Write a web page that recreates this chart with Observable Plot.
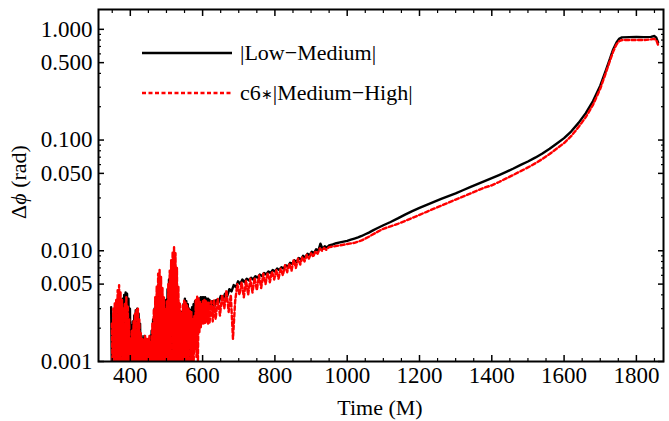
<!DOCTYPE html>
<html>
<head>
<meta charset="utf-8">
<script src="https://cdn.jsdelivr.net/npm/d3@7"></script>
<script src="https://cdn.jsdelivr.net/npm/@observablehq/plot@0.6"></script>
<style>
  body { margin: 0; background: white; }
  #chart { position: relative; width: 669px; height: 421px; }
</style>
</head>
<body>
<div id="chart"></div>
<script>
// ---- data: [time (M), |delta phi| (rad)] ----
const lowMedPoints = [
  [347,.0031],[349,.0008],[351,.0022],[353,.0008],[355,.0025],[357,.0008],[359,.0027],[361,.0008],[363,.0029],[365,.0008],
  [367,.0031],[369,.0008],[371,.0033],[373,.0008],[375,.0035],[377,.0008],[379,.0037],[381,.0008],[383,.0040],[385,.0008],
  [387,.0042],[389,.0008],[391,.0041],[393,.0008],[395,.0037],[397,.0008],[399,.0030],[401,.0008],[403,.0021],[405,.0008],
  [407,.0023],[409,.0008],[411,.0026],[413,.0008],[415,.0029],[417,.0008],[419,.0030],[421,.0008],[423,.0027],[425,.0008],
  [427,.0022],[429,.0008],[431,.0017],[433,.0008],[435,.0016],[437,.0008],[439,.0017],[441,.0008],[443,.0016],[445,.0008],
  [447,.0015],[449,.0008],[451,.0016],[453,.0008],[455,.0017],[457,.0008],[459,.0019],[461,.0008],[463,.0024],[465,.0008],
  [467,.0030],[469,.0008],[471,.0038],[473,.0008],[475,.0046],[477,.0008],[479,.0052],[481,.0008],[483,.0050],[485,.0008],
  [487,.0043],[489,.0008],[491,.0036],[493,.0008],[495,.0031],[497,.0008],[499,.0036],[501,.0008],[503,.0045],[505,.0008],
  [507,.0055],[509,.0008],[511,.0063],[513,.0008],[515,.0070],[517,.0008],[519,.0073],[521,.0008],[523,.0068],[525,.0008],
  [527,.0052],[529,.0008],[531,.0037],[533,.0008],[535,.0026],[537,.0008],[539,.0023],[541,.0008],[543,.0028],[545,.0008],
  [547,.0033],[549,.0008],[551,.0037],[553,.0008],[555,.0035],[557,.0008],[559,.0033],[561,.0008],[563,.0030],[565,.0008],
  [567,.0029],[569,.0012],[571,.0031],[573,.0016],[575,.0033],[577,.0020],[579,.0035],[581,.0024],[583,.0036],[585,.0026],
  [587,.0037],[589,.0028],[591,.0037],[593,.0029],[595,.0038],[597,.0030],[599,.0038],[601,.0030],[603,.0038],[605,.0031],
  [607,.0038],[609,.0031],[611,.0037],[613,.0031],[615,.0037],[617,.0031],[619,.0036],[621,.0031],
  [626,.0035],[632,.0031],[638,.0036],[644,.0034],[650,.0039],[656,.0036],[662,.0041],[668,.0039],[674,.0045],[680,.0043],
  [686,.0049],[692,.0047],[698,.0053],[704,.0050],[710,.0055],[716,.0052],[722,.0056],[728,.0054],[734,.0057],[740,.0055],
  [746,.0059],[752,.0057],[758,.0061],[764,.0059],[770,.0063],[776,.0061],[782,.0065],[788,.0063],[794,.0067],[800,.0065],
  [806,.0069],[812,.0067],[818,.0071],[824,.0069],[830,.0074],[836,.0072],[842,.0078],[848,.0076],[854,.0082],[860,.0079],
  [866,.0086],[872,.0083],[878,.0090],[884,.0087],[890,.0094],[896,.0091],[902,.0098],[908,.0095],[914,.0103],[920,.0100],
  [926,.0116],[932,.0104],[938,.0110],[944,.0107],[950,.0112],[960,.0114],[970,.0117],[980,.0119],[990,.0121],[1000,.0123],
  [1010,.0126],[1020,.0129],[1030,.0132],[1040,.0136],[1050,.0141],[1060,.0146],[1070,.0152],[1080,.0158],[1090,.0164],[1100,.0170],
  [1120,.0182],[1140,.0196],[1160,.0212],[1180,.0228],[1200,.0244],[1220,.0260],[1240,.0277],[1260,.0294],[1280,.0312],[1300,.0330],
  [1320,.0352],[1340,.0375],[1360,.0400],[1380,.0426],[1400,.0453],[1420,.0483],[1440,.0516],[1460,.0553],[1480,.0596],[1500,.0640],
  [1520,.0693],[1540,.0757],[1560,.0835],[1580,.093],[1600,.104],[1620,.120],[1640,.143],[1660,.175],[1680,.225],[1700,.31],
  [1715,.42],[1725,.52],[1735,.65],[1745,.76],[1752,.82],[1760,.845],[1780,.85],[1800,.852],[1820,.85],[1840,.855],
  [1850,.87],[1855,.84],[1860,.76]
];
const medHighPoints = [
  [349,.0022],[351,.0008],[353,.0030],[355,.0008],[357,.0034],[359,.0008],[361,.0036],[363,.0008],[365,.0044],[367,.0008],
  [369,.0049],[371,.0008],[373,.0042],[375,.0008],[377,.0036],[379,.0008],[381,.0030],[383,.0008],[385,.0034],[387,.0008],
  [389,.0038],[391,.0008],[393,.0032],[395,.0008],[397,.0024],[399,.0008],[401,.0016],[403,.0008],[405,.0019],[407,.0008],
  [409,.0023],[411,.0008],[413,.0027],[415,.0008],[417,.0030],[419,.0008],[421,.0030],[423,.0008],[425,.0024],[427,.0008],
  [429,.0018],[431,.0008],[433,.0016],[435,.0008],[437,.0016],[439,.0008],[441,.0017],[443,.0008],[445,.0016],[447,.0008],
  [449,.0016],[451,.0008],[453,.0017],[455,.0008],[457,.0015],[459,.0008],[461,.0022],[463,.0008],[465,.0030],[467,.0008],
  [469,.0038],[471,.0008],[473,.0048],[475,.0008],[477,.0062],[479,.0008],[481,.0067],[483,.0008],[485,.0058],[487,.0008],
  [489,.0046],[491,.0008],[493,.0038],[495,.0008],[497,.0030],[499,.0008],[501,.0035],[503,.0008],[505,.0050],[507,.0008],
  [509,.0066],[511,.0008],[513,.0082],[515,.0008],[517,.0098],[519,.0008],[521,.0108],[523,.0008],[525,.0095],[527,.0008],
  [529,.0070],[531,.0008],[533,.0048],[535,.0008],[537,.0034],[539,.0008],[541,.0028],[543,.0008],[545,.0032],[547,.0008],
  [549,.0036],[551,.0008],[553,.0034],[555,.0008],[557,.0032],[559,.0008],[561,.0030],[563,.0008],[565,.0029],[567,.0008],
  [569,.0028],[571,.0008],[573,.0024],[575,.0008],[577,.0026],[579,.0013],[581,.0036],[583,.0011],[585,.0039],[587,.0010],
  [589,.0037],[591,.0018],[593,.0035],[595,.0020],[597,.0033],[599,.0022],[601,.0035],[603,.0022],[605,.0036],[607,.0022],
  [609,.0035],[611,.0023],[613,.0034],[615,.0022],[617,.0034],[619,.0022],
  [624,.0035],[628,.0023],[632,.0036],[636,.0024],[642,.0037],[648,.0026],[654,.0040],[660,.0030],[666,.0044],[672,.0028],
  [678,.0040],[684,.0016],[690,.0035],[696,.0050],[702,.0040],[708,.0052],[714,.0038],[720,.0054],[726,.0040],[732,.0056],
  [738,.0042],[744,.0057],[750,.0044],[756,.0060],[762,.0046],[768,.0062],[774,.0050],[780,.0063],[786,.0052],[792,.0065],
  [798,.0055],[804,.0067],[810,.0056],[816,.0069],[822,.0060],[828,.0074],[834,.0064],[840,.0077],[846,.0066],[852,.0083],
  [858,.0070],[864,.0085],[870,.0075],[876,.0088],[882,.0080],[888,.0092],[894,.0085],[900,.0095],[906,.0088],[912,.0099],
  [918,.0094],[924,.0105],[930,.0100],[936,.0106],[942,.0102],[950,.0108],[960,.0109],[980,.0112],[1000,.0115],[1020,.0118],
  [1040,.0124],[1060,.0134],[1080,.0146],[1100,.0158],[1120,.0166],[1140,.0175],[1160,.0186],[1180,.0198],[1200,.0211],[1220,.0225],
  [1240,.0240],[1260,.0255],[1280,.0272],[1300,.0290],[1320,.0308],[1340,.0328],[1360,.0350],[1380,.0372],[1400,.0390],[1420,.0418],
  [1440,.0450],[1460,.0485],[1480,.0524],[1500,.0566],[1520,.0615],[1540,.0675],[1560,.0748],[1580,.0838],[1600,.094],[1620,.109],
  [1640,.131],[1660,.161],[1680,.208],[1700,.29],[1715,.40],[1725,.50],[1735,.62],[1745,.73],[1752,.78],[1760,.80],
  [1780,.80],[1800,.80],[1820,.80],[1840,.81],[1850,.82],[1855,.80],[1860,.72]
];

const xMajorTicks = [400,600,800,1000,1200,1400,1600,1800];
const xMinorTicks = [350,450,500,550,650,700,750,850,900,950,1050,1100,1150,1250,1300,1350,1450,1500,1550,1650,1700,1750,1850];
const yMajorTicks = [0.001,0.005,0.01,0.05,0.1,0.5,1];
const yMajorLabels = ["0.001","0.005","0.010","0.050","0.100","0.500","1.000"];
const yMinorTicks = [0.002,0.003,0.004,0.006,0.007,0.008,0.009,0.02,0.03,0.04,0.06,0.07,0.08,0.09,0.2,0.3,0.4,0.6,0.7,0.8,0.9];
const legendParts = [["", "", "|Low\u2212Medium|"], ["c6", "\u2217", "|Medium\u2212High|"]];
const xTitle = "Time (M)";

const lowMed = lowMedPoints.map(([t, v]) => ({t, v}));
const medHigh = medHighPoints.map(([t, v]) => ({t, v}));
const yLabelRows = yMajorTicks.map((v, i) => ({v, label: yMajorLabels[i]}));

const FONT = "'Liberation Serif', 'Times New Roman', serif";
const noText = () => "";

const plot = Plot.plot({
  width: 669, height: 421,
  marginLeft: 98, marginRight: 6, marginTop: 9, marginBottom: 60,
  x: {domain: [312, 1875]},
  y: {type: "log", domain: [0.001, 1.51]},
  style: {fontFamily: FONT, fontSize: "23px", color: "black", background: "white", overflow: "visible"},
  marks: [
    Plot.line(lowMed, {x: "t", y: "v", stroke: "black", strokeWidth: 2.4, clip: true}),
    Plot.line(medHigh, {x: "t", y: "v", stroke: "#ff0000", strokeWidth: 2.4, strokeDasharray: "4,2.5", clip: true}),
    // ticks pointing inward, on all four sides
    Plot.axisX(xMajorTicks, {anchor: "bottom", tickSize: -6, tickFormat: noText, label: null, strokeWidth: 1.5}),
    Plot.axisX(xMinorTicks, {anchor: "bottom", tickSize: -3, tickFormat: noText, label: null, strokeWidth: 1.2}),
    Plot.axisX(xMajorTicks, {anchor: "top", tickSize: -6, tickFormat: noText, label: null, strokeWidth: 1.5}),
    Plot.axisX(xMinorTicks, {anchor: "top", tickSize: -3, tickFormat: noText, label: null, strokeWidth: 1.2}),
    Plot.axisY(yMajorTicks, {anchor: "left", tickSize: -6, tickFormat: noText, label: null, strokeWidth: 1.5}),
    Plot.axisY(yMinorTicks, {anchor: "left", tickSize: -3, tickFormat: noText, label: null, strokeWidth: 1.2}),
    Plot.axisY(yMajorTicks, {anchor: "right", tickSize: -6, tickFormat: noText, label: null, strokeWidth: 1.5}),
    Plot.axisY(yMinorTicks, {anchor: "right", tickSize: -3, tickFormat: noText, label: null, strokeWidth: 1.2}),
    // tick labels
    Plot.axisX(xMajorTicks, {anchor: "bottom", tickSize: 0, tickPadding: 5, label: null, tickFormat: d => String(d), fontSize: 23}),
    Plot.text(yLabelRows, {y: "v", text: "label", frameAnchor: "left", textAnchor: "end", dx: -6, fontSize: 23}),
    Plot.frame({stroke: "black", strokeWidth: 2})
  ]
});

document.getElementById("chart").appendChild(plot);

// axis titles and legend
const svg = d3.select(plot);
svg.append("text")
  .attr("x", 380).attr("y", 415)
  .attr("text-anchor", "middle")
  .attr("font-family", FONT).attr("font-size", 22).attr("fill", "black")
  .text(xTitle);

const yl = svg.append("text")
  .attr("transform", "translate(26,182) rotate(-90)")
  .attr("text-anchor", "middle")
  .attr("font-family", FONT).attr("font-size", 22).attr("fill", "black");
yl.append("tspan").text("\u0394");
yl.append("tspan").attr("font-style", "italic").text("\u03d5");
yl.append("tspan").text(" (rad)");

const leg = svg.append("g").attr("font-family", FONT).attr("font-size", 22).attr("fill", "black");
const legRows = [
  {y: 53, stroke: "black", dash: null, parts: legendParts[0]},
  {y: 93, stroke: "#ff0000", dash: "4,2.5", parts: legendParts[1]}
];
legRows.forEach(r => {
  leg.append("line").attr("x1", 142).attr("x2", 232).attr("y1", r.y).attr("y2", r.y)
    .attr("stroke", r.stroke).attr("stroke-width", 2.4).attr("stroke-dasharray", r.dash);
  const t = leg.append("text").attr("x", 240).attr("y", r.y + 7).attr("text-anchor", "start");
  if (r.parts[0]) t.append("tspan").text(r.parts[0]);
  if (r.parts[1]) t.append("tspan").attr("font-size", 14).attr("dy", -1).text(r.parts[1]);
  t.append("tspan").attr("dy", r.parts[1] ? 1 : 0).text(r.parts[2]);
});
</script>
</body>
</html>
